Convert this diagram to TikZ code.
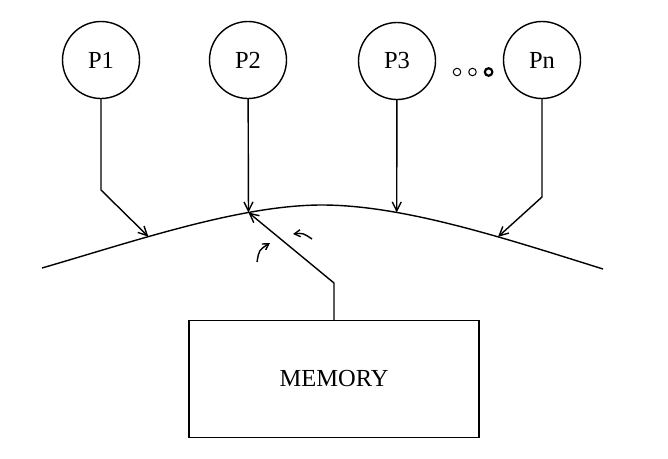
\documentclass[tikz,border=0pt]{standalone}
\usepackage{fontspec}
\setmainfont{Liberation Serif}
\usetikzlibrary{arrows.meta,positioning}
\tikzset{
  font=\fontsize{24.5}{28}\selectfont,
  proc/.style={circle, draw, line width=1.4pt, minimum size=77pt, inner sep=0pt},
  dot/.style={circle, draw, line width=1pt, minimum size=7.5pt, inner sep=0pt},
  membox/.style={draw, line width=1.4pt, minimum width=290pt, minimum height=117pt},
  arrow/.style={-{Straight Barb[length=9pt, width=9pt]}, line width=1.4pt},
  flick/.style={-{Straight Barb[length=6pt, width=7pt]}, line width=1.4pt}
}

\begin{document}
\begin{tikzpicture}[x=1pt, y=-1pt]
  \useasboundingbox (0,0) rectangle (668,458);

  % processors
  \node[proc] (p1) at (101,60) {P1};
  \node[proc] (p2) at (248,60) {P2};
  \node[proc] (p3) at (397,61) {P3};
  \node[proc] (pn) at (542,60) {Pn};

  % dots between P3 and Pn
  \node[dot] (d1) at (457,72) {};
  \node[dot, right=7pt of d1] (d2) {};
  \node[dot, line width=2.2pt, right=7pt of d2] (d3) {};

  % memory
  \node[membox] (mem) at (334,379) {MEMORY};

  % interconnect curve
  \draw[line width=1.4pt] (42,268)
    .. controls (135,241) and (240,205) .. coordinate[pos=0.37] (b1) coordinate[pos=0.72] (b2) (322,205)
    .. controls (405,205) and (510,240) .. coordinate[pos=0.282] (b3) coordinate[pos=0.635] (b4) (603,269);

  % bends
  \coordinate (k1) at (101,190);
  \coordinate (k4) at (542,197);
  \coordinate (km) at (334,283);

  \draw[arrow] (p1) -- (k1) -- (b1);
  \draw[arrow] (p2) -- (b2);
  \draw[arrow] (p3) -- (b3);
  \draw[arrow] (pn) -- (k4) -- (b4);
  \draw[arrow] (mem) -- (km) -- (b2);

  % little turn marks
  \draw[flick] (257,262) .. controls (259,250) .. (270,243);
  \draw[flick] (312,239) .. controls (303,233) .. (293,234);
\end{tikzpicture}
\end{document}
